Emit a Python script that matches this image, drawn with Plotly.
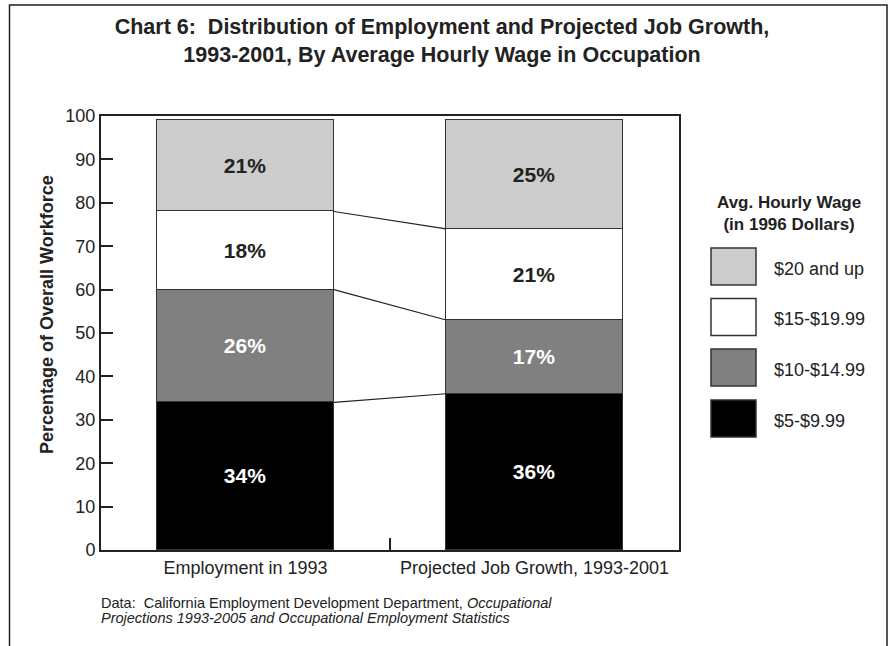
import numpy as np
import plotly.graph_objects as go

# ---- data ----
categories = ["Employment in 1993", "Projected Job Growth, 1993-2001"]
wage_bands = ["$5-$9.99", "$10-$14.99", "$15-$19.99", "$20 and up"]  # bottom -> top
share_1993 = [34, 26, 18, 21]
share_growth = [36, 17, 21, 25]
y_ticks = list(range(0, 101, 10))

# ---- styling ----
FONT = "Liberation Sans, Arial, Helvetica, sans-serif"
INK = "#222222"
band_colors = ["#000000", "#808080", "#ffffff", "#cccccc"]
label_colors = ["#ffffff", "#ffffff", INK, INK]

W, H = 893, 646
L, R, T, B = 101, 214, 116, 96
PW, PH = W - L - R, H - T - B


def px_x(p):
    return (p - L) / PW


def px_y(p):
    return (H - B - p) / PH


x_pos = [0.5, 1.5]
bar_w = 0.612

fig = go.Figure()

series = [share_1993, share_growth]
for i, band in enumerate(wage_bands):
    vals = [s[i] for s in series]
    fig.add_trace(go.Bar(
        x=x_pos, y=vals, width=bar_w, name=band,
        marker=dict(color=band_colors[i], line=dict(color="#333333", width=1)),
        text=[f"{v}%" for v in vals],
        textposition="inside", insidetextanchor="middle",
        textfont=dict(size=21, color=label_colors[i], family=FONT, weight="bold"),
        constraintext="none",
        showlegend=False, hoverinfo="skip",
    ))

# connector lines between matching band boundaries of the two stacks
cum_a = np.cumsum(share_1993)
cum_b = np.cumsum(share_growth)
for k in range(len(wage_bands) - 1):
    fig.add_trace(go.Scatter(
        x=[x_pos[0] + bar_w / 2, x_pos[1] - bar_w / 2],
        y=[cum_a[k], cum_b[k]],
        mode="lines", line=dict(color=INK, width=1.2),
        showlegend=False, hoverinfo="skip",
    ))

shapes = []
annotations = []

# outer frame (open at the bottom)
xl, xr, yt, yb = px_x(9.5), px_x(887), px_y(5), px_y(660)
shapes.append(dict(type="path", xref="paper", yref="paper",
                   path=f"M {xl} {yb} L {xl} {yt} L {xr} {yt} L {xr} {yb}",
                   line=dict(color=INK, width=1.5)))

# legend, top row = top band
legend_title = "<b>Avg. Hourly Wage</b><br><b>(in 1996 Dollars)</b>"
annotations.append(dict(text=legend_title, xref="paper", yref="paper",
                        x=px_x(789), y=px_y(213), xanchor="center", yanchor="middle",
                        showarrow=False, align="center",
                        font=dict(family=FONT, size=17, color=INK)))
row_tops = [248, 298.5, 349, 400]
for row, idx in enumerate(reversed(range(len(wage_bands)))):
    top = row_tops[row]
    shapes.append(dict(type="rect", xref="paper", yref="paper",
                       x0=px_x(711), x1=px_x(756), y0=px_y(top + 37), y1=px_y(top),
                       fillcolor=band_colors[idx],
                       line=dict(color="#333333", width=1.5)))
    annotations.append(dict(text=wage_bands[idx], xref="paper", yref="paper",
                            x=px_x(772), y=px_y(top + 20.5), xanchor="left", yanchor="middle",
                            showarrow=False,
                            font=dict(family=FONT, size=18, color=INK)))

# y-axis title
annotations.append(dict(text="<b>Percentage of Overall Workforce</b>", xref="paper", yref="paper",
                        x=px_x(47), y=px_y(315), xanchor="center", yanchor="middle",
                        textangle=-90, showarrow=False,
                        font=dict(family=FONT, size=18, color=INK)))

# source note
annotations.append(dict(text="Data:\u00a0\u00a0California Employment Development Department, <i>Occupational</i>",
                        xref="paper", yref="paper", x=px_x(99), y=px_y(603),
                        xanchor="left", yanchor="middle", showarrow=False,
                        font=dict(family=FONT, size=14.5, color=INK)))
annotations.append(dict(text="<i>Projections 1993-2005 and Occupational Employment Statistics</i>",
                        xref="paper", yref="paper", x=px_x(99), y=px_y(618),
                        xanchor="left", yanchor="middle", showarrow=False,
                        font=dict(family=FONT, size=14.5, color=INK)))

fig.update_layout(
    width=W, height=H,
    margin=dict(l=L, r=R, t=T, b=B, pad=0),
    paper_bgcolor="white", plot_bgcolor="white",
    barmode="stack", bargap=0,
    showlegend=False,
    title=dict(
        text="<b>Chart 6:\u00a0\u00a0Distribution of Employment and Projected Job Growth,</b><br>"
             "<b>1993-2001, By Average Hourly Wage in Occupation</b>",
        x=442 / W, xanchor="center", xref="container",
        y=1 - 34 / H, yanchor="top", yref="container",
        font=dict(family=FONT, size=21.5, color=INK),
    ),
    xaxis=dict(
        range=[0, 2], tickmode="array", tickvals=x_pos, ticktext=categories,
        ticks="", showgrid=False, zeroline=False,
        showline=True, linecolor=INK, linewidth=2, mirror=True,
        tickfont=dict(family=FONT, size=18, color=INK),
        minor=dict(tickmode="array", tickvals=[1], ticks="inside", ticklen=12,
                   tickwidth=2, tickcolor=INK, showgrid=False),
        fixedrange=True,
    ),
    yaxis=dict(
        range=[0, 100], tickmode="array", tickvals=y_ticks,
        ticks="inside", ticklen=12, tickwidth=2, tickcolor=INK,
        showgrid=False, zeroline=False,
        showline=True, linecolor=INK, linewidth=2, mirror=True,
        tickfont=dict(family=FONT, size=18, color=INK),
        fixedrange=True,
    ),
    shapes=shapes,
    annotations=annotations,
)

fig.write_html("out.html", config={"displayModeBar": False})
